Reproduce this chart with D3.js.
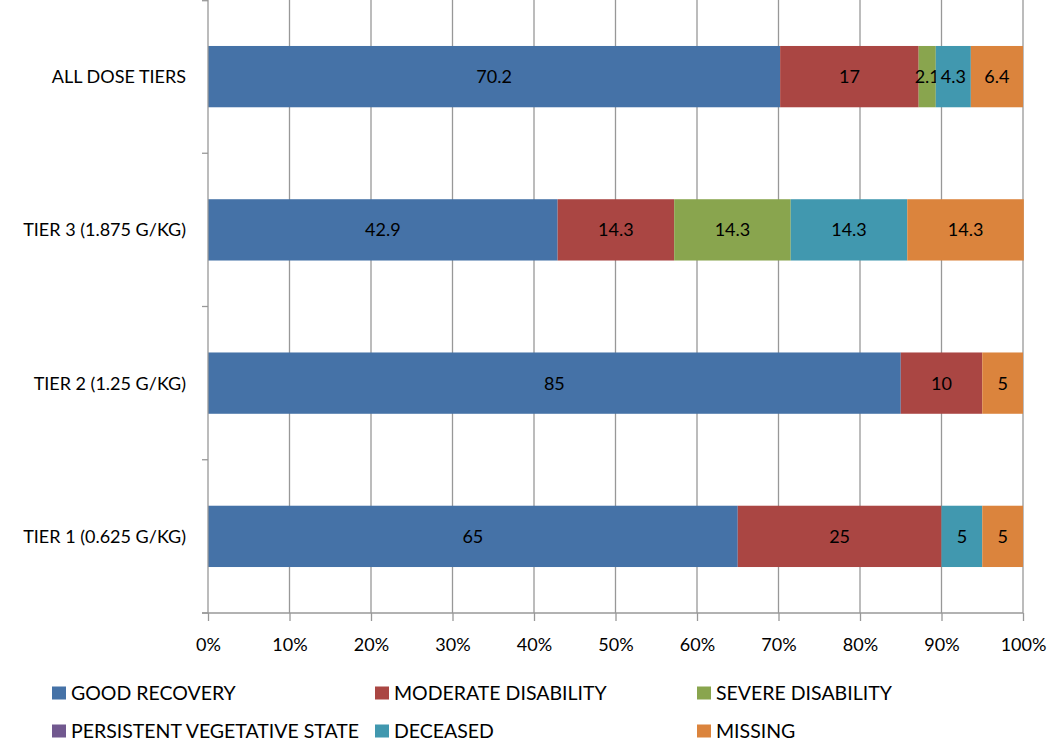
<!DOCTYPE html>
<html><head><meta charset="utf-8">
<script src="https://cdn.jsdelivr.net/npm/d3@7"></script>
<style>body{margin:0;background:#fff;} text{font-family:Lato, "Open Sans", sans-serif;}</style>
</head><body><svg id="c" width="1050" height="744"></svg>
<script>
const categories = ["ALL DOSE TIERS","TIER 3 (1.875 G/KG)","TIER 2 (1.25 G/KG)","TIER 1 (0.625 G/KG)"];
const seriesNames = ["GOOD RECOVERY","MODERATE DISABILITY","SEVERE DISABILITY","PERSISTENT VEGETATIVE STATE","DECEASED","MISSING"];
const goodRecovery = [70.2, 42.9, 85, 65];
const moderateDisability = [17, 14.3, 10, 25];
const severeDisability = [2.1, 14.3, 0, 0];
const persistentVegetative = [0, 0, 0, 0];
const deceased = [4.3, 14.3, 0, 5];
const missing = [6.4, 14.3, 5, 5];
const colors = ["#4572A7","#AA4643","#89A54E","#71588F","#4198AF","#DB843D"];
const xTicks = [0,10,20,30,40,50,60,70,80,90,100];

const seriesVals = [goodRecovery, moderateDisability, severeDisability, persistentVegetative, deceased, missing];
const rows = categories.map((c,i)=>{const o={cat:c}; seriesNames.forEach((s,j)=>o[s]=seriesVals[j][i]); return o;});
const stack = d3.stack().keys(seriesNames)(rows);

const svg = d3.select("#c");
const L=208, R=1023, T=0, B=613;
const x = d3.scaleLinear().domain([0,100]).range([L,R]);
const y = d3.scaleBand().domain(categories).range([T,B]).paddingInner(0.6).paddingOuter(0.3);
const yb = d3.scaleBand().domain(categories).range([T,B]);

// gridlines
svg.append("g").selectAll("line").data(xTicks.slice(1)).join("line")
  .attr("x1",d=>x(d)).attr("x2",d=>x(d)).attr("y1",T).attr("y2",B)
  .attr("stroke","#989898").attr("stroke-width",1.3);

// bars
const g = svg.append("g");
stack.forEach((layer,j)=>{
  g.append("g").selectAll("rect").data(layer).join("rect")
   .attr("x",d=>x(d[0])).attr("width",d=>x(d[1])-x(d[0]))
   .attr("y",d=>y(d.data.cat)).attr("height",y.bandwidth())
   .attr("fill",colors[j]);
  g.append("g").selectAll("text").data(layer.filter(d=>d[1]-d[0]>0)).join("text")
   .attr("x",d=>(x(d[0])+x(d[1]))/2).attr("y",d=>y(d.data.cat)+y.bandwidth()/2)
   .attr("text-anchor","middle").attr("dy","0.36em")
   .attr("font-size",18).attr("fill","#000")
   .text(d=>String(d.data[seriesNames[j]]));
});

// x axis
const xa = svg.append("g").attr("transform",`translate(0,${B})`)
  .call(d3.axisBottom(x).tickValues(xTicks).tickFormat(d=>d+"%").tickSize(8).tickPadding(17));
xa.select(".domain").attr("stroke","#989898").attr("stroke-width",1.3).attr("d",`M${L-6},0H${R}`);
xa.selectAll(".tick line").attr("stroke","#989898").attr("stroke-width",1.3);
xa.selectAll("text").attr("font-size",18).attr("fill","#000").style("font-family","Lato, sans-serif");

// y axis
svg.append("line").attr("x1",L).attr("x2",L).attr("y1",T).attr("y2",B).attr("stroke","#989898").attr("stroke-width",1.3);
const bounds = categories.map(c=>yb(c)).concat([B]);
svg.append("g").selectAll("line").data(bounds).join("line")
  .attr("x1",L-6).attr("x2",L).attr("y1",d=>Math.max(d,0.7)).attr("y2",d=>Math.max(d,0.7))
  .attr("stroke","#989898").attr("stroke-width",1.3);
svg.append("g").selectAll("text").data(categories).join("text")
  .attr("x",L-22).attr("y",d=>y(d)+y.bandwidth()/2).attr("dy","0.36em")
  .attr("text-anchor","end").attr("font-size",18).attr("fill","#000").text(d=>d);

// legend
const legPos = [[52,693],[375,693],[697,693],[52,731],[375,731],[697,731]];
const lg = svg.append("g").selectAll("g").data(seriesNames).join("g")
  .attr("transform",(d,i)=>`translate(${legPos[i][0]},${legPos[i][1]})`);
lg.append("rect").attr("x",0).attr("y",-6.5).attr("width",14).attr("height",13).attr("fill",(d,i)=>colors[i]);
lg.append("text").attr("x",19).attr("y",0).attr("dy","0.36em").attr("font-size",19.5).attr("fill","#000").text(d=>d);
</script></body></html>
